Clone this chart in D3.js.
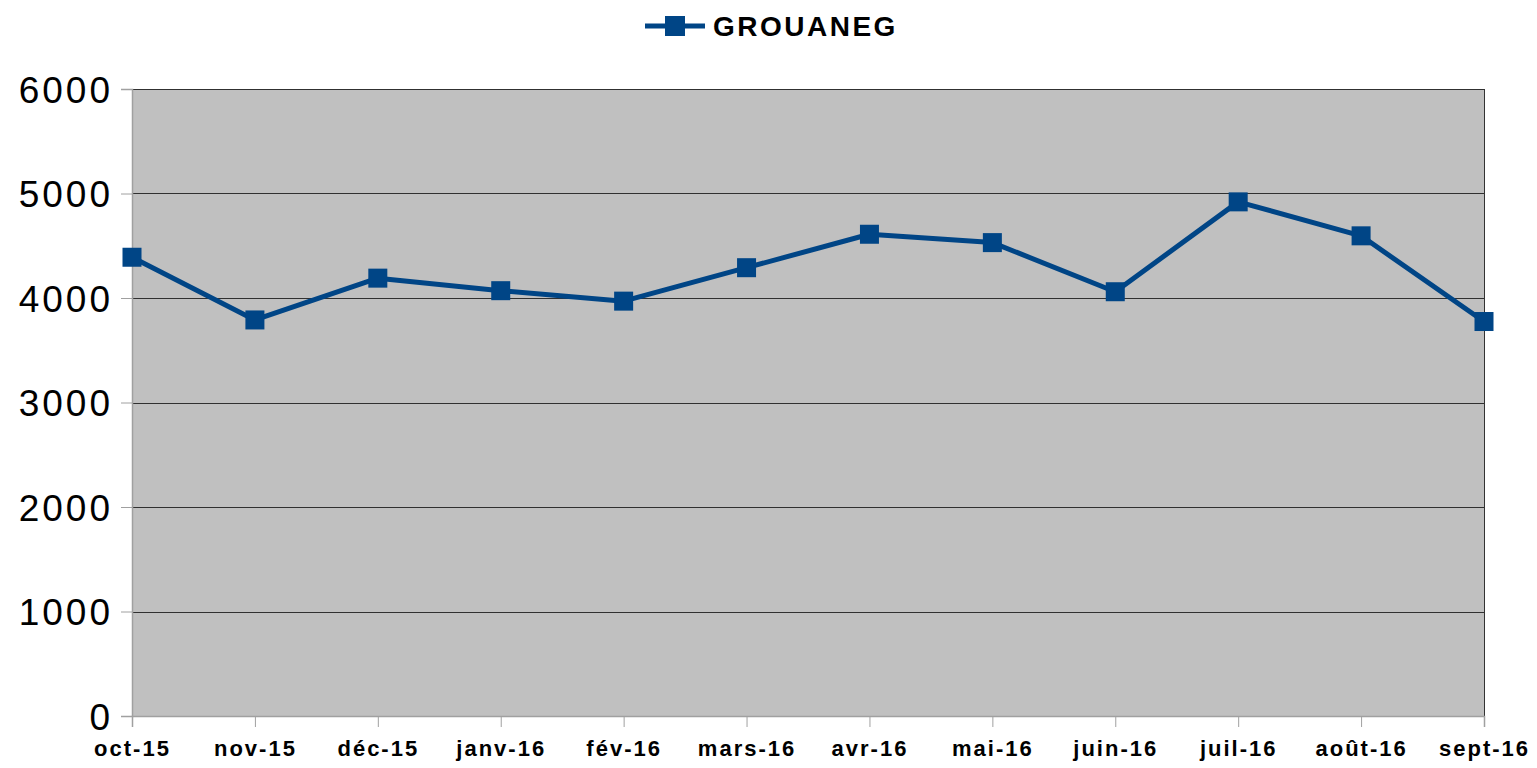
<!DOCTYPE html>
<html>
<head>
<meta charset="utf-8">
<script src="https://cdn.jsdelivr.net/npm/d3@7"></script>
<style>
  body { margin: 0; background: #fff; }
  text { font-family: "Liberation Sans", Arial, sans-serif; }
</style>
</head>
<body>
<div id="wrapper"></div>
<script>
const months = ["oct-15", "nov-15", "déc-15", "janv-16", "fév-16", "mars-16",
                "avr-16", "mai-16", "juin-16", "juil-16", "août-16", "sept-16"];
const grouaneg = [4390, 3790, 4190, 4070, 3970, 4290, 4610, 4530, 4060, 4920, 4595, 3775];
const yTicks = [0, 1000, 2000, 3000, 4000, 5000, 6000];
const seriesName = "GROUANEG";

function buildPlot() {
    const dimension = {
        width: 1537,
        height: 768,
        margin: { top: 89, left: 132, bottom: 52, right: 53 }
    };
    dimension.boundedWidth = dimension.width - dimension.margin.left - dimension.margin.right;
    dimension.boundedHeight = dimension.height - dimension.margin.top - dimension.margin.bottom;

    const color = "#004586";

    const svg = d3.select("#wrapper").append("svg")
        .attr("width", dimension.width)
        .attr("height", dimension.height);

    const bounded = svg.append("g")
        .attr("transform", `translate(${dimension.margin.left},${dimension.margin.top})`);

    const xScaler = d3.scalePoint()
        .domain(months)
        .range([0, dimension.boundedWidth]);

    const yScaler = d3.scaleLinear()
        .domain([0, 6000])
        .range([dimension.boundedHeight, 0]);

    // plot background
    bounded.append("rect")
        .attr("width", dimension.boundedWidth)
        .attr("height", dimension.boundedHeight)
        .attr("fill", "#c0c0c0");

    // gridlines
    bounded.append("g")
        .selectAll("line")
        .data(yTicks.filter(d => d > 0))
        .join("line")
        .attr("x1", 0)
        .attr("x2", dimension.boundedWidth)
        .attr("y1", d => Math.round(yScaler(d)) + 0.5)
        .attr("y2", d => Math.round(yScaler(d)) + 0.5)
        .attr("stroke", "#000")
        .attr("stroke-opacity", 0.75)
        .attr("stroke-width", 1);

    // right border
    bounded.append("line")
        .attr("x1", dimension.boundedWidth + 0.5)
        .attr("x2", dimension.boundedWidth + 0.5)
        .attr("y1", 0)
        .attr("y2", dimension.boundedHeight)
        .attr("stroke", "#333");

    // y axis
    const y_axis = d3.axisLeft(yScaler)
        .tickValues(yTicks)
        .tickFormat(d3.format("d"))
        .tickSize(11)
        .tickPadding(8);
    const yG = bounded.append("g").call(y_axis);
    yG.select(".domain").attr("stroke", "#a0a0a0").attr("stroke-width", 1.5);
    yG.selectAll(".tick line").attr("stroke", "#a0a0a0");
    yG.selectAll(".tick text")
        .attr("fill", "#000")
        .style("font-size", "37px")
        .style("letter-spacing", "3px")
        .attr("dy", "0.36em");

    // x axis
    const x_axis = d3.axisBottom(xScaler)
        .tickSize(11)
        .tickPadding(13);
    const xG = bounded.append("g")
        .attr("transform", `translate(0,${dimension.boundedHeight})`)
        .call(x_axis);
    xG.select(".domain").attr("stroke", "#a0a0a0").attr("stroke-width", 1.5);
    xG.selectAll(".tick line").attr("stroke", "#a0a0a0");
    xG.selectAll(".tick text")
        .attr("fill", "#000")
        .style("font-size", "22px")
        .style("font-weight", "bold")
        .style("letter-spacing", "2px");

    // line
    const lineGenerator = d3.line()
        .x((d, i) => xScaler(months[i]))
        .y(d => yScaler(d));

    bounded.append("path")
        .attr("d", lineGenerator(grouaneg))
        .attr("fill", "none")
        .attr("stroke", color)
        .attr("stroke-width", 5)
        .attr("stroke-linejoin", "round");

    const markerSize = 19;
    bounded.append("g")
        .selectAll("rect")
        .data(grouaneg)
        .join("rect")
        .attr("x", (d, i) => xScaler(months[i]) - markerSize / 2)
        .attr("y", d => yScaler(d) - markerSize / 2)
        .attr("width", markerSize)
        .attr("height", markerSize)
        .attr("fill", color);

    // legend on top
    const legend = svg.append("g").attr("transform", "translate(645, 26)");
    legend.append("line")
        .attr("x1", 0).attr("x2", 60)
        .attr("y1", 0).attr("y2", 0)
        .attr("stroke", color)
        .attr("stroke-width", 5);
    legend.append("rect")
        .attr("x", 20).attr("y", -10)
        .attr("width", 20).attr("height", 20)
        .attr("fill", color);
    legend.append("text")
        .attr("x", 68)
        .attr("y", 0)
        .attr("dy", "0.36em")
        .style("font-size", "28px")
        .style("font-weight", "bold")
        .style("letter-spacing", "2.5px")
        .text(seriesName);
}

buildPlot();
</script>
</body>
</html>
